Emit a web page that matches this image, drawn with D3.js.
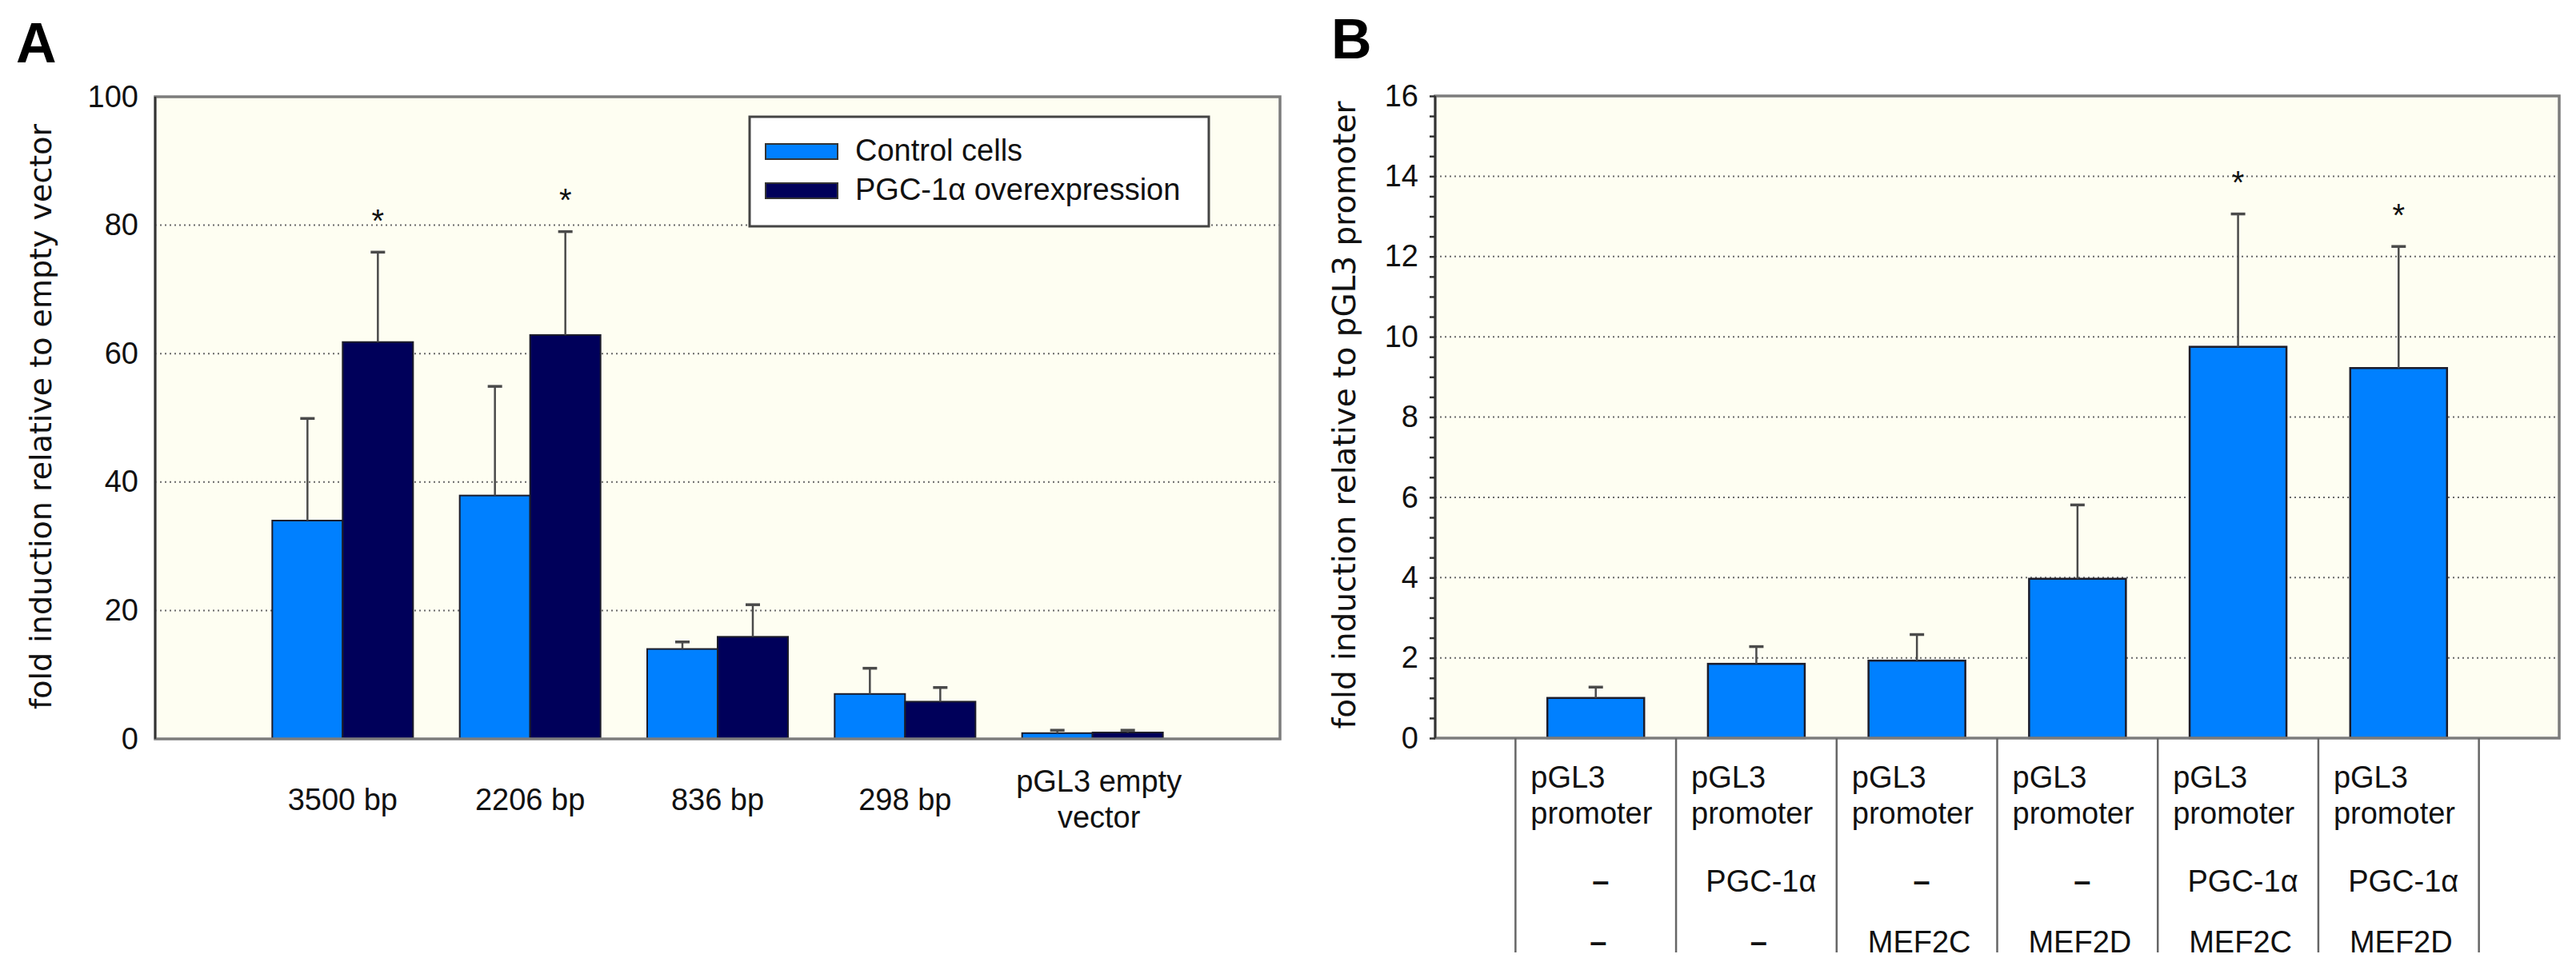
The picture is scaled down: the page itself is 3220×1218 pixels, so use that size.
<!DOCTYPE html>
<html><head><meta charset="utf-8">
<script src="https://cdn.jsdelivr.net/npm/d3@7"></script>
<style>body{margin:0;background:#fff} svg{display:block}</style>
</head><body>
<svg id="chart" width="3220" height="1218"></svg>
<script>
// ---------- Panel A data ----------
const catsA = ["3500 bp", "2206 bp", "836 bp", "298 bp", "pGL3 empty vector"];
const catLinesA = [["3500 bp"], ["2206 bp"], ["836 bp"], ["298 bp"], ["pGL3 empty", "vector"]];
const seriesNamesA = ["Control cells", "PGC-1\u03b1 overexpression"];
const controlA = [34.0, 37.9, 14.0, 7.0, 0.9];
const controlErrA = [15.9, 17.0, 1.1, 4.0, 0.45];
const pgcA = [61.8, 62.9, 15.9, 5.8, 1.0];
const pgcErrA = [14.0, 16.1, 5.0, 2.2, 0.35];
const sigA = [true, true, false, false, false];
const ticksA = [0, 20, 40, 60, 80, 100];
const gridA = [20, 40, 60, 80];

// ---------- Panel B data ----------
const rowPromoterB = ["pGL3 promoter", "pGL3 promoter", "pGL3 promoter", "pGL3 promoter", "pGL3 promoter", "pGL3 promoter"];
const rowPgcB = ["\u2013", "PGC-1\u03b1", "\u2013", "\u2013", "PGC-1\u03b1", "PGC-1\u03b1"];
const rowMefB = ["\u2013", "\u2013", "MEF2C", "MEF2D", "MEF2C", "MEF2D"];
const valuesB = [1.0, 1.85, 1.93, 3.97, 9.75, 9.22];
const errB = [0.27, 0.43, 0.65, 1.84, 3.31, 3.03];
const sigB = [false, false, false, false, true, true];
const ticksB = [0, 2, 4, 6, 8, 10, 12, 14, 16];
const gridB = [2, 4, 6, 8, 10, 12, 14];

// ---------- style ----------
const SANS = "'Liberation Sans', Arial, sans-serif";
const TITLE = "'DejaVu Sans', Verdana, sans-serif";
const BLUE = "#0080ff", NAVY = "#00005a", BG = "#fefef2";
const FS = 38;

const svg = d3.select("#chart");

function frame(box, y, grid) {
  svg.append("rect").attr("x", box.left).attr("y", box.top)
    .attr("width", box.right - box.left).attr("height", box.bottom - box.top)
    .attr("fill", BG);
  svg.append("g").selectAll("line").data(grid).join("line")
    .attr("x1", box.left).attr("x2", box.right)
    .attr("y1", d => y(d)).attr("y2", d => y(d))
    .attr("stroke", "#6a6a6a").attr("stroke-width", 2).attr("stroke-dasharray", "2,4");
}
function border(box) {
  svg.append("rect").attr("x", box.left).attr("y", box.top)
    .attr("width", box.right - box.left).attr("height", box.bottom - box.top)
    .attr("fill", "none").attr("stroke", "#7c7c7c").attr("stroke-width", 3.5);
  svg.append("line").attr("x1", box.left).attr("x2", box.left)
    .attr("y1", box.top).attr("y2", box.bottom).attr("stroke", "#333").attr("stroke-width", 2.5);
}
function errBar(cx, y0, y1) {
  const g = svg.append("g").attr("stroke", "#4a4a4a").attr("stroke-width", 2.5);
  g.append("line").attr("x1", cx).attr("x2", cx).attr("y1", y0).attr("y2", y1);
  g.append("line").attr("x1", cx - 9).attr("x2", cx + 9).attr("y1", y1).attr("y2", y1).attr("stroke-width", 3.5);
}
function star(cx, yTop) {
  const fs = 40;
  svg.append("text").attr("x", cx).attr("y", yTop - 48 + 0.57 * fs)
    .attr("text-anchor", "middle").attr("font-family", SANS).attr("font-size", fs)
    .attr("fill", "#111").text("*");
}
function yTitle(x, y, txt, fs) {
  svg.append("text").attr("transform", `translate(${x},${y}) rotate(-90)`)
    .attr("text-anchor", "middle").attr("font-family", TITLE).attr("font-size", fs)
    .attr("fill", "#111").text(txt);
}

// ================= PANEL A =================
const A = {left: 194, right: 1600, top: 121, bottom: 924};
const yA = d3.scaleLinear().domain([0, 100]).range([A.bottom, A.top]);
const xA = d3.scalePoint().domain(catsA).range([A.left, A.right]).padding(1);
const bwA = 88;

frame(A, yA, gridA);

const seriesA = [
  {vals: controlA, err: controlErrA, color: BLUE, off: -bwA},
  {vals: pgcA, err: pgcErrA, color: NAVY, off: 0}
];
seriesA.forEach((s, si) => {
  svg.append("g").selectAll("rect").data(catsA).join("rect")
    .attr("x", d => xA(d) + s.off).attr("width", bwA)
    .attr("y", (d, i) => yA(s.vals[i])).attr("height", (d, i) => yA(0) - yA(s.vals[i]))
    .attr("fill", s.color).attr("stroke", "#1c1c2a").attr("stroke-width", 2);
  catsA.forEach((c, i) => {
    const cx = xA(c) + s.off + bwA / 2;
    errBar(cx, yA(s.vals[i]), yA(s.vals[i] + s.err[i]));
    if (si === 1 && sigA[i]) star(cx, yA(s.vals[i] + s.err[i]));
  });
});
border(A);

const axA = svg.append("g").attr("transform", `translate(${A.left},0)`)
  .call(d3.axisLeft(yA).tickValues(ticksA).tickSize(0).tickPadding(21));
axA.select(".domain").remove();
axA.selectAll("text").attr("font-family", SANS).attr("font-size", FS).attr("fill", "#111");

// x labels A
catsA.forEach((c, i) => {
  const lines = catLinesA[i];
  const t = svg.append("text").attr("text-anchor", "middle")
    .attr("font-family", SANS).attr("font-size", FS).attr("fill", "#111");
  if (lines.length === 1) {
    t.append("tspan").attr("x", xA(c)).attr("y", 1013).text(lines[0]);
  } else {
    lines.forEach((l, j) => t.append("tspan").attr("x", xA(c) + 8).attr("y", 990 + j * 45).text(l));
  }
});

// legend A
const lg = svg.append("g");
lg.append("rect").attr("x", 937).attr("y", 146).attr("width", 574).attr("height", 137)
  .attr("fill", "#fff").attr("stroke", "#444").attr("stroke-width", 3);
[BLUE, NAVY].forEach((col, i) => {
  lg.append("rect").attr("x", 957).attr("y", 180 + i * 49).attr("width", 90).attr("height", 19)
    .attr("fill", col).attr("stroke", "#333").attr("stroke-width", 2);
  lg.append("text").attr("x", 1069).attr("y", 201 + i * 49)
    .attr("font-family", SANS).attr("font-size", FS).attr("fill", "#111").text(seriesNamesA[i]);
});

yTitle(64, 521, "fold induction relative to empty vector", 38);
svg.append("text").attr("x", 20).attr("y", 78).attr("font-family", SANS)
  .attr("font-weight", "bold").attr("font-size", 70).attr("fill", "#000").text("A");

// ================= PANEL B =================
const B = {left: 1794, right: 3199, top: 120, bottom: 923};
const idxB = d3.range(valuesB.length);
const yB = d3.scaleLinear().domain([0, 16]).range([B.bottom, B.top]);
const xB = d3.scalePoint().domain(idxB).range([B.left, B.right]).padding(1);
const bwB = 121;

frame(B, yB, gridB);
svg.append("g").selectAll("rect").data(idxB).join("rect")
  .attr("x", i => xB(i) - bwB / 2).attr("width", bwB)
  .attr("y", i => yB(valuesB[i])).attr("height", i => yB(0) - yB(valuesB[i]))
  .attr("fill", BLUE).attr("stroke", "#1c1c2a").attr("stroke-width", 2.5);
idxB.forEach(i => {
  errBar(xB(i), yB(valuesB[i]), yB(valuesB[i] + errB[i]));
  if (sigB[i]) star(xB(i), yB(valuesB[i] + errB[i]));
});
border(B);

const minorB = svg.append("g").attr("transform", `translate(${B.left},0)`)
  .call(d3.axisLeft(yB).tickValues(d3.range(0, 16.01, 0.5)).tickSize(7).tickFormat(""));
minorB.select(".domain").remove();
minorB.selectAll("line").attr("stroke", "#333").attr("stroke-width", 2.5);
const axB = svg.append("g").attr("transform", `translate(${B.left},0)`)
  .call(d3.axisLeft(yB).tickValues(ticksB).tickSize(0).tickPadding(21));
axB.select(".domain").remove();
axB.selectAll("text").attr("font-family", SANS).attr("font-size", FS).attr("fill", "#111");

// table under panel B
const stepB = xB.step();
const bounds = idxB.map(i => xB(i) - stepB / 2).concat([xB(idxB.length - 1) + stepB / 2]);
svg.append("g").selectAll("line").data(bounds).join("line")
  .attr("x1", d => d).attr("x2", d => d).attr("y1", B.bottom).attr("y2", 1191)
  .attr("stroke", "#666").attr("stroke-width", 2.5);
idxB.forEach(i => {
  const xl = xB(i) - stepB / 2 + 19;
  const parts = rowPromoterB[i].split(" ");
  const t = svg.append("text").attr("font-family", SANS).attr("font-size", FS).attr("fill", "#111");
  t.append("tspan").attr("x", xl).attr("y", 985).text(parts[0]);
  t.append("tspan").attr("x", xl).attr("y", 1030).text(parts[1]);
  svg.append("text").attr("x", xB(i) + 6).attr("y", 1115).attr("text-anchor", "middle")
    .attr("font-family", SANS).attr("font-size", FS).attr("font-weight", rowPgcB[i] === "\u2013" ? "bold" : "normal")
    .attr("fill", "#111").text(rowPgcB[i]);
  svg.append("text").attr("x", xB(i) + 3).attr("y", 1191).attr("text-anchor", "middle")
    .attr("font-family", SANS).attr("font-size", FS).attr("font-weight", rowMefB[i] === "\u2013" ? "bold" : "normal")
    .attr("fill", "#111").text(rowMefB[i]);
});

yTitle(1694, 519, "fold induction relative to pGL3 promoter", 39);
svg.append("text").attr("x", 1664).attr("y", 73).attr("font-family", SANS)
  .attr("font-weight", "bold").attr("font-size", 70).attr("fill", "#000").text("B");
</script>
</body></html>
